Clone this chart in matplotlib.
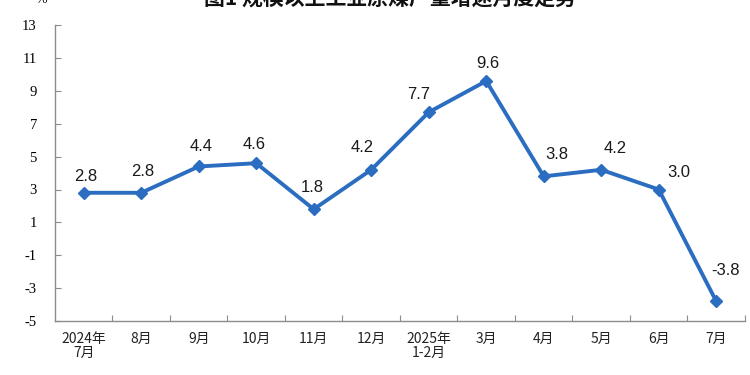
import matplotlib
matplotlib.use('Agg')
import matplotlib.pyplot as plt

months = ['2024年\n7月', '8月', '9月', '10月', '11月', '12月',
          '2025年\n1-2月', '3月', '4月', '5月', '6月', '7月']
growth = [2.8, 2.8, 4.4, 4.6, 1.8, 4.2, 7.7, 9.6, 3.8, 4.2, 3.0, -3.8]
yticks = [-5, -3, -1, 1, 3, 5, 7, 9, 11, 13]
title = '图1 规模以上工业原煤产量增速月度走势'

# where each value label sits relative to its point, in pixels
label_dx = [2, 1, 2, -2, -1, -9, -10, 2, 13, 14, 20, 9]
label_dy = [16, 21, 20, 19, 22, 22, 18, 18, 22, 21, 17, 31]

line_color = '#2B6DC0'
axis_color = '#8C8C8C'

fig = plt.figure(figsize=(7.5, 3.75), dpi=100)
ax = fig.add_axes([0.0733, 0.144, 0.92, 0.789])

x = list(range(len(growth)))
ax.plot(x, growth, color=line_color, linewidth=2.8, marker='D',
        markersize=6.5, markeredgecolor=line_color, markerfacecolor=line_color)

for i, v in enumerate(growth):
    ax.annotate(f'{v:.1f}', (i, v), xytext=(label_dx[i], label_dy[i]),
                textcoords='offset pixels', ha='center', va='center',
                fontsize=12, family='Liberation Sans', color='#1a1a1a')

ax.set_xlim(-0.5, len(growth) - 0.5)
ax.set_ylim(-5, 13)

ax.set_yticks(yticks)
ax.set_yticklabels([str(t) for t in yticks], family='Liberation Serif', fontsize=10.5)
ax.tick_params(axis='y', direction='in', length=4, width=0.8, color=axis_color, pad=13)

ax.set_xticks(x)
ax.set_xticklabels(months, family=['Noto Sans CJK SC', 'DejaVu Sans'], fontsize=10,
                   linespacing=1.0, color='#222222')
ax.tick_params(axis='x', which='major', length=0, pad=8)
ax.set_xticks([i + 0.5 for i in x], minor=True)
ax.tick_params(axis='x', which='minor', direction='in', length=4, width=0.8, color=axis_color)

for side in ['top', 'right']:
    ax.spines[side].set_visible(False)
for side in ['left', 'bottom']:
    ax.spines[side].set_color(axis_color)
    ax.spines[side].set_linewidth(1.0)

fig.text(0.52, 0.978, title, ha='center', va='bottom', fontsize=15, fontweight='bold',
         family=['Noto Sans CJK SC', 'DejaVu Sans'], color='#111111')
fig.text(0.055, 0.985, '%', ha='center', va='bottom', fontsize=10,
         family='Liberation Serif', color='#111111')

fig.savefig('out.png', dpi=100)
